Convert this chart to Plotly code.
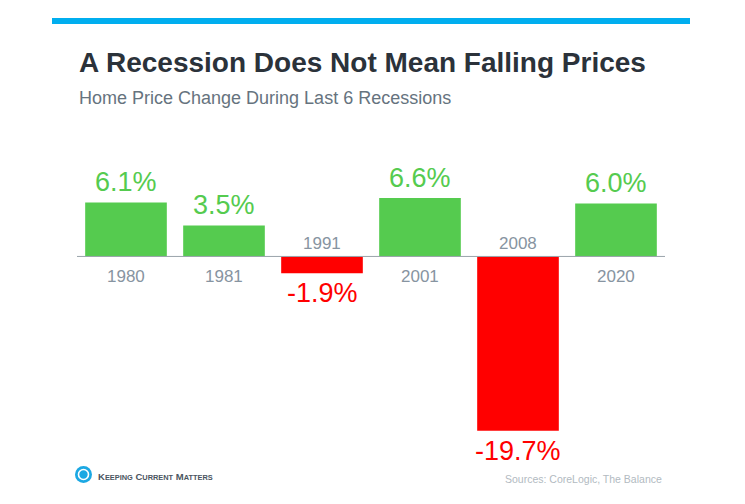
import plotly.graph_objects as go

# =====================================
# DATA
# =====================================

years = ["1980", "1981", "1991", "2001", "2008", "2020"]
changes = [6.1, 3.5, -1.9, 6.6, -19.7, 6.0]
value_labels = ["6.1%", "3.5%", "-1.9%", "6.6%", "-19.7%", "6.0%"]

TITLE = "A Recession Does Not Mean Falling Prices"
SUBTITLE = "Home Price Change During Last 6 Recessions"
SOURCE = "Sources: CoreLogic, The Balance"

# =====================================
# STYLE / LAYOUT HELPERS
# =====================================

W, H = 745, 504
OFF = 8  # page body margin pushes the figure 8px right/down

PLOT_X0, PLOT_X1 = 77 - OFF, 665 - OFF
PLOT_Y0, PLOT_Y1 = 168 - OFF, 451 - OFF
M_L, M_R, M_T, M_B = PLOT_X0, W - PLOT_X1, PLOT_Y0, H - PLOT_Y1

GREEN = "#55CB4F"
RED = "#FF0000"
BLUE = "#00AEEF"
YEAR_GRAY = "#8794A1"
FONT = "Liberation Sans, Arial, sans-serif"


def px_x(px):
    # screen pixel -> paper x
    return (px - OFF - PLOT_X0) / (PLOT_X1 - PLOT_X0)


def px_y(py):
    # screen pixel -> paper y
    return (PLOT_Y1 - (py - OFF)) / (PLOT_Y1 - PLOT_Y0)


colors = [GREEN if v >= 0 else RED for v in changes]

# =====================================
# FIGURE
# =====================================

fig = go.Figure()

fig.add_trace(
    go.Bar(
        x=years,
        y=changes,
        marker=dict(color=colors, line=dict(width=0)),
        hoverinfo="skip",
    )
)

annotations = []

# value labels above / below bars (x = category index)
for i, (yr, v, lab, c) in enumerate(zip(years, changes, value_labels, colors)):
    annotations.append(
        dict(
            xref="x", yref="y",
            x=i, y=v, text=lab, showarrow=False,
            yshift=20 if v >= 0 else -20,
            yanchor="middle",
            font=dict(family=FONT, size=27, color=c),
        )
    )
    # year labels on the opposite side of the baseline
    annotations.append(
        dict(
            xref="x", yref="y",
            x=i, y=0, text=yr, showarrow=False,
            yshift=-20 if v >= 0 else 13,
            yanchor="middle",
            font=dict(family=FONT, size=17, color=YEAR_GRAY),
        )
    )

# title and subtitle
annotations.append(
    dict(
        xref="paper", yref="paper", x=px_x(77), y=px_y(62),
        xanchor="left", yanchor="middle", showarrow=False,
        text="<b>" + TITLE + "</b>",
        font=dict(family=FONT, size=28, color="#2B323A"),
    )
)
annotations.append(
    dict(
        xref="paper", yref="paper", x=px_x(77), y=px_y(98),
        xanchor="left", yanchor="middle", showarrow=False,
        text=SUBTITLE,
        font=dict(family=FONT, size=18, color="#66737E"),
    )
)

# source note
annotations.append(
    dict(
        xref="paper", yref="paper", x=px_x(664), y=px_y(479),
        xanchor="right", yanchor="middle", showarrow=False,
        text=SOURCE,
        font=dict(family=FONT, size=10.5, color="#B2BAC1"),
    )
)

# logo text (small caps)
sc = "<span style='font-size:7.4px'>%s</span>"
logo = ("K" + sc % "EEPING" + " C" + sc % "URRENT" + " M" + sc % "ATTERS")
annotations.append(
    dict(
        xref="paper", yref="paper", x=px_x(96), y=px_y(476),
        xanchor="left", yanchor="middle", showarrow=False,
        text="<b>" + logo + "</b>",
        font=dict(family=FONT, size=9.5, color="#4A5561"),
    )
)

shapes = [
    # top blue rule
    dict(
        type="rect", xref="paper", yref="paper",
        x0=px_x(52), x1=px_x(690), y0=px_y(24), y1=px_y(18),
        fillcolor=BLUE, line=dict(width=0), layer="above",
    ),
    # baseline
    dict(
        type="line", xref="paper", yref="y",
        x0=0, x1=1, y0=0, y1=0,
        line=dict(color="#9AA3AB", width=1), layer="above",
    ),
    # logo icon
    dict(
        type="circle", xref="paper", yref="paper",
        x0=px_x(75), x1=px_x(92), y0=px_y(483), y1=px_y(466),
        fillcolor="#1BA8E3", line=dict(width=0),
    ),
    dict(
        type="circle", xref="paper", yref="paper",
        x0=px_x(78.5), x1=px_x(88.5), y0=px_y(479.5), y1=px_y(469.5),
        fillcolor="rgba(0,0,0,0)", line=dict(color="white", width=1.6),
    ),
]

fig.update_layout(
    width=W,
    height=H,
    margin=dict(l=M_L, r=M_R, t=M_T, b=M_B),
    paper_bgcolor="white",
    plot_bgcolor="white",
    showlegend=False,
    bargap=0.167,
    annotations=annotations,
    shapes=shapes,
)

fig.update_xaxes(
    type="category",
    visible=False,
    range=[-0.5, 5.5],
)

fig.update_yaxes(
    visible=False,
    range=[-22, 10],
)

fig.write_html("out.html", config={"displayModeBar": False})
